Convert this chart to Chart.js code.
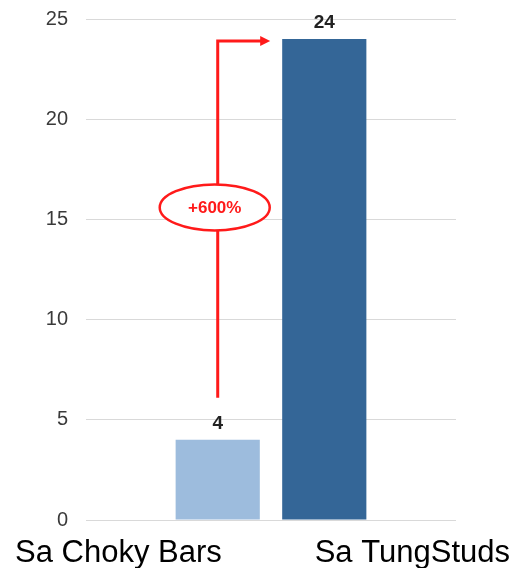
<!DOCTYPE html>
<html>
<head>
<meta charset="utf-8">
<script src="https://cdn.jsdelivr.net/npm/chart.js@4"></script>
<style>
  html, body { margin: 0; padding: 0; background: #fff; }
  #chart { display: block; }
</style>
</head>
<body>
<canvas id="chart" width="517" height="568"></canvas>
<script>
const categories = ['Sa Choky Bars', 'Sa TungStuds'];
const values = [4, 24];
const barColors = ['#9dbcdd', '#346697'];
const yMin = 0;
const yMax = 25;
const yStep = 5;
const changeLabel = '+600%';

// arrow starts a bit above the first bar's label
const arrowStartValue = 6.1;
const ovalValue = 15.6;

const annotate = {
  id: 'annotate',
  afterDatasetsDraw(chart) {
    const ctx = chart.ctx;
    const y = chart.scales.y;
    const bars = chart.data.datasets.map((ds, i) => chart.getDatasetMeta(i).data[0]);

    ctx.save();

    // value labels on top of bars
    ctx.fillStyle = '#222';
    ctx.font = 'bold 19px "Liberation Sans", Arial, sans-serif';
    ctx.textAlign = 'center';
    ctx.textBaseline = 'alphabetic';
    bars.forEach((bar, i) => {
      ctx.fillText(String(values[i]), bar.x, bar.y - 11);
    });

    // red elbow arrow from first bar up to second bar
    const b1 = bars[0], b2 = bars[1];
    const x0 = b1.x;
    const yStart = y.getPixelForValue(arrowStartValue);
    const yTop = b2.y + 2;
    const tipX = b2.x - b2.width / 2 - 12;
    ctx.strokeStyle = '#ff1a1a';
    ctx.fillStyle = '#ff1a1a';
    ctx.lineWidth = 3;
    ctx.beginPath();
    ctx.moveTo(x0, yStart);
    ctx.lineTo(x0, yTop);
    ctx.lineTo(tipX - 8, yTop);
    ctx.stroke();
    ctx.beginPath();
    ctx.moveTo(tipX, yTop);
    ctx.lineTo(tipX - 10, yTop - 5);
    ctx.lineTo(tipX - 10, yTop + 5);
    ctx.closePath();
    ctx.fill();

    // oval with change percentage
    const oy = y.getPixelForValue(ovalValue);
    const ox = x0 - 3;
    ctx.beginPath();
    ctx.ellipse(ox, oy, 55, 23, 0, 0, Math.PI * 2);
    ctx.fillStyle = '#fff';
    ctx.fill();
    ctx.lineWidth = 2.5;
    ctx.stroke();
    ctx.fillStyle = '#ff1a1a';
    ctx.font = 'bold 17px "Liberation Sans", Arial, sans-serif';
    ctx.textBaseline = 'middle';
    ctx.fillText(changeLabel, ox, oy + 1);

    // category names under the plot
    ctx.fillStyle = '#000';
    ctx.font = '31px "Liberation Sans", Arial, sans-serif';
    ctx.textBaseline = 'alphabetic';
    ctx.textAlign = 'left';
    ctx.fillText(categories[0], 15, chart.height - 6);
    ctx.textAlign = 'right';
    ctx.fillText(categories[1], chart.width - 7, chart.height - 6);

    ctx.restore();
  }
};

new Chart(document.getElementById('chart'), {
  type: 'bar',
  data: {
    labels: [''],
    datasets: categories.map((name, i) => ({
      label: name,
      data: [values[i]],
      backgroundColor: barColors[i],
      borderWidth: 0,
      categoryPercentage: 0.576,
      barPercentage: 0.79
    }))
  },
  options: {
    responsive: false,
    animation: false,
    layout: { padding: { top: 19, right: 61, bottom: 48, left: 0 } },
    plugins: {
      legend: { display: false },
      tooltip: { enabled: false }
    },
    scales: {
      x: { display: false },
      y: {
        min: yMin,
        max: yMax,
        ticks: {
          stepSize: yStep,
          color: '#3a3a3a',
          padding: 18,
          font: { family: '"Liberation Sans", Arial, sans-serif', size: 20 }
        },
        grid: { color: '#d9d9d9', lineWidth: 1, drawTicks: false },
        border: { display: false },
        afterFit(scale) {
          scale.width = 86;
          scale.paddingTop = 0;
          scale.paddingBottom = 0;
        }
      }
    }
  },
  plugins: [annotate]
});
</script>
</body>
</html>
